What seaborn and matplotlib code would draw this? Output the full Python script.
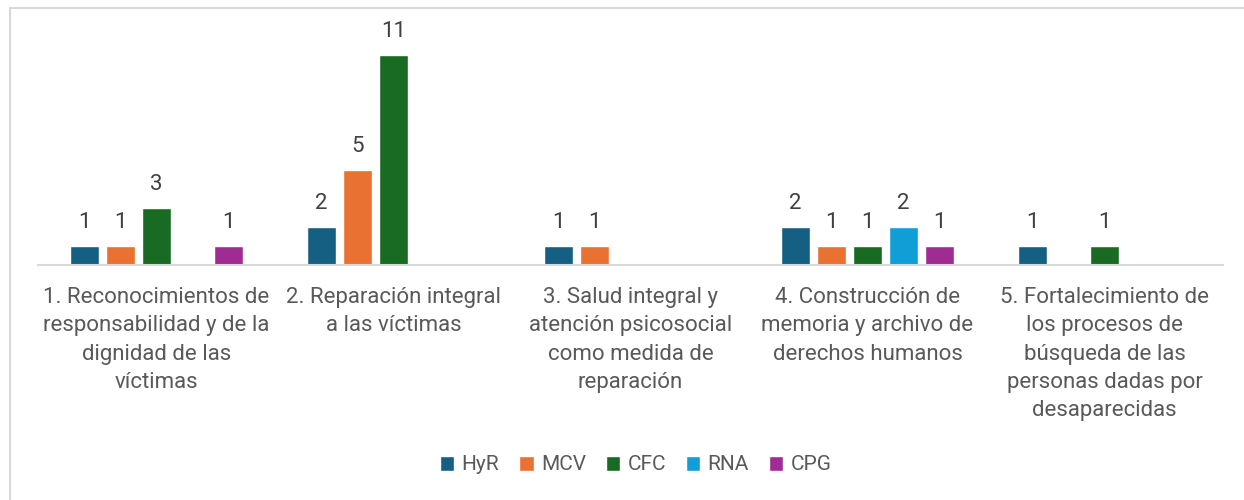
import pandas as pd
import seaborn as sns
import matplotlib.pyplot as plt
from matplotlib.patches import Rectangle

# Datos
categorias = [
    "1. Reconocimientos de\nresponsabilidad y de la\ndignidad de las\nvíctimas",
    "2. Reparación integral\na las víctimas",
    "3. Salud integral y\natención psicosocial\ncomo medida de\nreparación",
    "4. Construcción de\nmemoria y archivo de\nderechos humanos",
    "5. Fortalecimiento de\nlos procesos de\nbúsqueda de las\npersonas dadas por\ndesaparecidas",
]
series = ["HyR", "MCV", "CFC", "RNA", "CPG"]
hyr = [1, 2, 1, 2, 1]
mcv = [1, 5, 1, 1, 0]
cfc = [3, 11, 0, 1, 1]
rna = [0, 0, 0, 2, 0]
cpg = [1, 0, 0, 1, 0]
colores = ["#156082", "#E97132", "#196B24", "#0F9ED5", "#A02B93"]

filas = []
for s, vals in zip(series, [hyr, mcv, cfc, rna, cpg]):
    for c, v in zip(categorias, vals):
        if v > 0:
            filas.append({"categoria": c, "serie": s, "valor": v})
df = pd.DataFrame(filas)

sns.set_style("white")
plt.rcParams["font.family"] = ["Roboto", "DejaVu Sans"]

fig = plt.figure(figsize=(12.44, 5), dpi=100)
ax = fig.add_axes([38 / 1244, 1 - 265 / 500, 1185 / 1244, 245 / 500])

sns.barplot(data=df, x="categoria", y="valor", hue="serie",
            order=categorias, hue_order=series, palette=colores,
            saturation=1, width=0.76, gap=0.2, ax=ax, legend=True)

for cont in ax.containers:
    ax.bar_label(cont, fmt=lambda v: f"{v:.0f}" if v > 0 else "",
                 padding=9, fontsize=16, color="#404040")

ax.set_ylim(0, 245 / 19.1)
ax.set_xlim(-0.5, 4.5)
ax.set_xlabel("")
ax.set_ylabel("")
ax.set_yticks([])
ax.tick_params(axis="x", length=0, pad=16, labelsize=16, labelcolor="#595959")
for lab in ax.get_xticklabels():
    lab.set_linespacing(1.45)
for side in ["top", "left", "right"]:
    ax.spines[side].set_visible(False)
ax.spines["bottom"].set_color("#d9d9d9")
ax.spines["bottom"].set_linewidth(1.5)

# Leyenda
handles, labels = ax.get_legend_handles_labels()
ax.legend(handles, labels, loc="center", bbox_to_anchor=(0.511, 0.07),
          bbox_transform=fig.transFigure, ncol=5, frameon=False,
          fontsize=15, labelcolor="#595959", handlelength=0.7,
          handleheight=0.7, handletextpad=0.35, columnspacing=0.95)

# Borde del gráfico
fig.patches.append(Rectangle((10 / 1244, -0.1), 1.2, 1 - 8 / 500 + 0.1,
                             transform=fig.transFigure, fill=False,
                             edgecolor="#d9d9d9", linewidth=1.5))

fig.savefig("out.png", dpi=100)
